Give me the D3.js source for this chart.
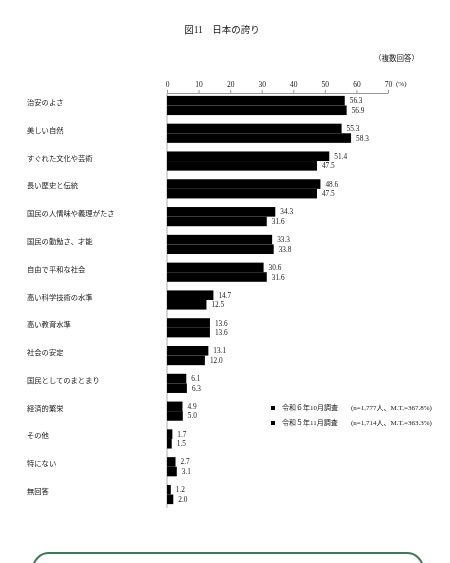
<!DOCTYPE html>
<html>
  <head>
    <meta charset="utf-8">
    <title>図11 日本の誇り</title>
    <script src="https://d3js.org/d3.v7.min.js"></script>
    <style>
      body { margin: 0; background: #fff; }
      svg { will-change: transform; }
      text { font-family: "Liberation Serif", "Noto Sans CJK JP", serif; fill: #1a1a1a; }
    </style>
  </head>
  <body>
    <div id="chart"></div>
    <script>
      const categories = ["治安のよさ", "美しい自然", "すぐれた文化や芸術", "長い歴史と伝統",
        "国民の人情味や義理がたさ", "国民の勤勉さ、才能", "自由で平和な社会", "高い科学技術の水準",
        "高い教育水準", "社会の安定", "国民としてのまとまり", "経済的繁栄", "その他", "特にない", "無回答"];
      const r6Values = [56.3, 55.3, 51.4, 48.6, 34.3, 33.3, 30.6, 14.7, 13.6, 13.1, 6.1, 4.9, 1.7, 2.7, 1.2];
      const r5Values = [56.9, 58.3, 47.5, 47.5, 31.6, 33.8, 31.6, 12.5, 13.6, 12.0, 6.3, 5.0, 1.5, 3.1, 2.0];
      const seriesNames = ["令和６年10月調査", "令和５年11月調査"];
      const seriesNotes = ["(n=1,777人、M.T.=367.8%)", "(n=1,714人、M.T.=363.3%)"];
      const tickValues = [0, 10, 20, 30, 40, 50, 60, 70];

      const svg = d3.select("#chart")
        .append("svg")
        .attr("width", 450)
        .attr("height", 563);

      const x = d3.scaleLinear()
        .domain([0, 70])
        .range([167, 388]);

      const y = d3.scaleBand()
        .domain(categories)
        .range([92, 508])
        .paddingInner(0.31)
        .paddingOuter(0.14);

      const sub = d3.scaleBand()
        .domain([0, 1])
        .range([0, y.bandwidth()]);

      // title
      svg.append("text")
        .attr("x", 222).attr("y", 33)
        .attr("text-anchor", "middle")
        .attr("font-size", "9.5px")
        .text("図11　日本の誇り");

      svg.append("text")
        .attr("x", 419).attr("y", 61)
        .attr("text-anchor", "end")
        .attr("font-size", "7.5px")
        .text("（複数回答）");

      // top axis
      const axis = svg.append("g")
        .attr("transform", "translate(0,93)")
        .call(d3.axisTop(x).tickValues(tickValues).tickSize(3).tickSizeOuter(0));
      axis.select(".domain").attr("stroke", "#999");
      axis.selectAll(".tick line").attr("stroke", "#999");
      axis.selectAll(".tick text")
        .attr("font-size", "7.5px");

      svg.append("text")
        .attr("x", 396).attr("y", 86)
        .attr("font-size", "7px")
        .text("(%)");

      // vertical base line
      svg.append("line")
        .attr("x1", x(0)).attr("x2", x(0))
        .attr("y1", 93).attr("y2", 508)
        .attr("stroke", "#999")
        .attr("stroke-width", 0.8);

      // category labels
      svg.selectAll("text.cat")
        .data(categories)
        .join("text")
        .attr("class", "cat")
        .attr("x", 27)
        .attr("y", d => y(d) + y.bandwidth() / 2 - 3)
        .attr("dy", "0.35em")
        .attr("font-size", "7.3px")
        .text(d => d);

      const rows = categories.map((c, i) => ({ c, vals: [r6Values[i], r5Values[i]] }));

      const g = svg.selectAll("g.row")
        .data(rows)
        .join("g")
        .attr("class", "row")
        .attr("transform", d => `translate(0,${y(d.c)})`);

      g.selectAll("rect")
        .data(d => d.vals)
        .join("rect")
        .attr("x", x(0))
        .attr("y", (_, i) => sub(i))
        .attr("width", v => x(v) - x(0))
        .attr("height", sub.bandwidth())
        .attr("fill", "#000");

      g.selectAll("text")
        .data(d => d.vals)
        .join("text")
        .attr("x", v => x(v) + 5)
        .attr("y", (_, i) => sub(i) + sub.bandwidth() / 2)
        .attr("dy", "0.35em")
        .attr("font-size", "7.3px")
        .text(v => v.toFixed(1));

      // legend
      const legend = svg.selectAll("g.legend")
        .data(seriesNames)
        .join("g")
        .attr("class", "legend")
        .attr("transform", (_, i) => `translate(271,${408 + i * 15})`);
      legend.append("rect")
        .attr("x", 0).attr("y", -2)
        .attr("width", 4).attr("height", 4)
        .attr("fill", "#000");
      legend.append("text")
        .attr("x", 11).attr("dy", "0.35em")
        .attr("font-size", "7px")
        .text(d => d);
      legend.append("text")
        .attr("x", 80).attr("dy", "0.35em")
        .attr("font-size", "7px")
        .text((_, i) => seriesNotes[i]);

      // green rounded box at the bottom
      svg.append("rect")
        .attr("x", 33).attr("y", 553)
        .attr("width", 390).attr("height", 40)
        .attr("rx", 16)
        .attr("fill", "none")
        .attr("stroke", "#3e7a57")
        .attr("stroke-width", 2);
    </script>
  </body>
</html>
